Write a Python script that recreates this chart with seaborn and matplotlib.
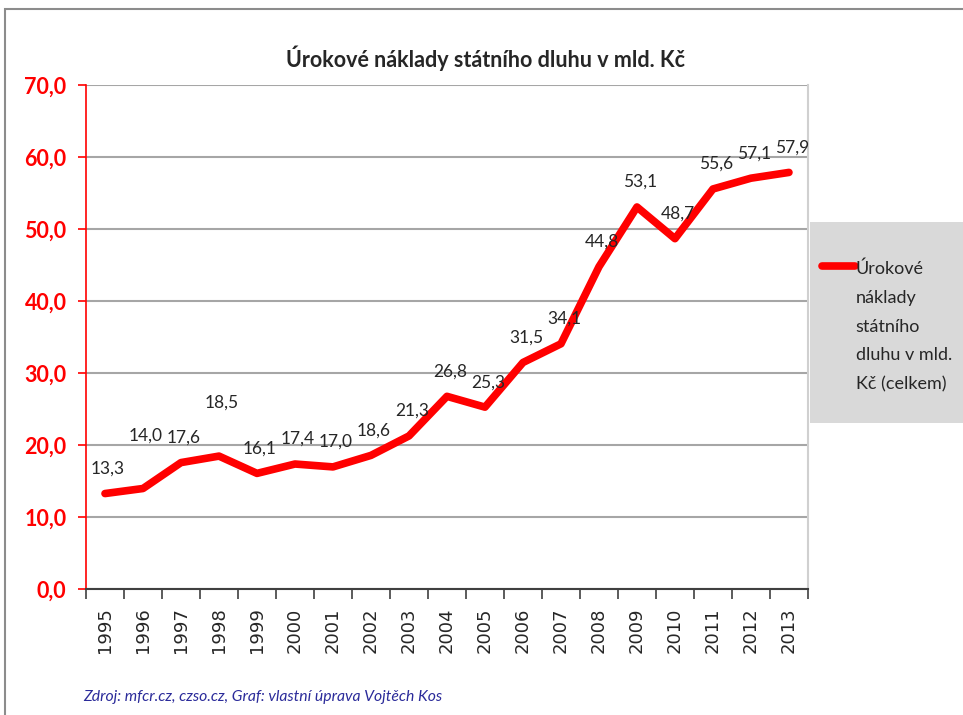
import seaborn as sns
from matplotlib import pyplot as plt
from matplotlib.patches import Rectangle
from matplotlib.lines import Line2D
from matplotlib.legend_handler import HandlerLine2D
import pandas as pd

# Data
years = [str(y) for y in range(1995, 2014)]
costs = [13.3, 14.0, 17.6, 18.5, 16.1, 17.4, 17.0, 18.6, 21.3, 26.8,
         25.3, 31.5, 34.1, 44.8, 53.1, 48.7, 55.6, 57.1, 57.9]
title = "Úrokové náklady státního dluhu v mld. Kč"
legend_label = "Úrokové\nnáklady\nstátního\ndluhu v mld.\nKč (celkem)"
source = "Zdroj: mfcr.cz, czso.cz, Graf: vlastní úprava Vojtěch Kos"

df = pd.DataFrame({"pos": range(len(years)), "year": years, "cost": costs})

sns.set_style("white")
plt.rcParams['font.family'] = ['Lato', 'DejaVu Sans']

LEG_FS = 13
LEG_SPACING = 1.97


class TopLineHandler(HandlerLine2D):
    # put the legend line next to the first line of a multi-line label
    def create_artists(self, legend, orig_handle, xdescent, ydescent, width, height, fontsize, trans):
        arts = super().create_artists(legend, orig_handle, xdescent, ydescent, width, height, fontsize, trans)
        shift = 2 * 0.81 * LEG_FS * LEG_SPACING + 2
        for a in arts:
            a.set_ydata([y + shift for y in a.get_ydata()])
        return arts


fig = plt.figure(figsize=(9.63, 7.15), dpi=100)
ax = fig.add_axes([0.0893, 0.1758, 0.7497, 0.7049])

# outer frame
fig.add_artist(Rectangle((0.005, -0.05), 1.1, 1.037, transform=fig.transFigure,
                         fill=False, edgecolor="#8c8c8c", linewidth=1.5))

sns.lineplot(data=df, x="pos", y="cost", ax=ax, color="#ff0000", linewidth=5.5,
             solid_capstyle="round", solid_joinstyle="round", legend=False)

ax.set_xlim(-0.5, len(years) - 0.5)
ax.set_ylim(0, 70)
ax.set_yticks(range(0, 71, 10))
ax.set_yticklabels([f"{v:.1f}".replace(".", ",") for v in range(0, 71, 10)])
ax.yaxis.grid(True, color="#a6a6a6", linewidth=1.5)
ax.set_axisbelow(True)

ax.set_xticks([i - 0.5 for i in range(len(years) + 1)])
ax.set_xticklabels([])
ax.set_xticks(range(len(years)), minor=True)
ax.set_xticklabels(years, minor=True, rotation=90, family="DejaVu Sans", fontsize=13)
ax.tick_params(axis="x", which="major", direction="out", length=7, width=1.2, color="#404040", bottom=True)
ax.tick_params(axis="x", which="minor", length=0, pad=13)
ax.tick_params(axis="y", direction="out", length=6, width=1.2, color="#ff0000",
               labelcolor="#ff0000", labelsize=15.5, pad=8, left=True)
for lab in ax.get_yticklabels():
    lab.set_fontweight("bold")

ax.set_xlabel("")
ax.set_ylabel("")
ax.spines["left"].set_color("#ff0000")
ax.spines["left"].set_linewidth(1.2)
ax.spines["bottom"].set_color("#404040")
ax.spines["bottom"].set_linewidth(1.5)
ax.spines["top"].set_visible(False)
ax.spines["right"].set_color("#d0d0d0")
ax.spines["right"].set_linewidth(1.5)

# data labels
offsets = [-25 if y not in ("1996", "1998") else -53 for y in years]
for i, (v, off) in enumerate(zip(costs, offsets)):
    ax.annotate(f"{v:.1f}".replace(".", ","), (i, v), xytext=(3, -off),
                textcoords="offset pixels", ha="center", va="center", fontsize=12.5)

fig.text(0.504, 0.918, title, ha="center", va="center", fontsize=15.5, fontweight="bold")

# legend box
fig.add_artist(Rectangle((810 / 963, 1 - 423 / 715), 0.2, 201 / 715,
                         transform=fig.transFigure, facecolor="#d9d9d9", edgecolor="none"))
handle = Line2D([], [], color="#ff0000", linewidth=5.5, solid_capstyle="round")
leg = fig.legend([handle], [legend_label], loc="upper left", bbox_to_anchor=(0.837, 0.658),
                 frameon=False, fontsize=LEG_FS, handlelength=1.8, handletextpad=0.05,
                 handler_map={Line2D: TopLineHandler()})
leg.get_texts()[0].set_linespacing(LEG_SPACING)

fig.text(0.086, 0.025, source, ha="left", va="center", fontsize=11.3, style="italic",
         color="#2b2b9a")

plt.savefig("out.png", dpi=100)
